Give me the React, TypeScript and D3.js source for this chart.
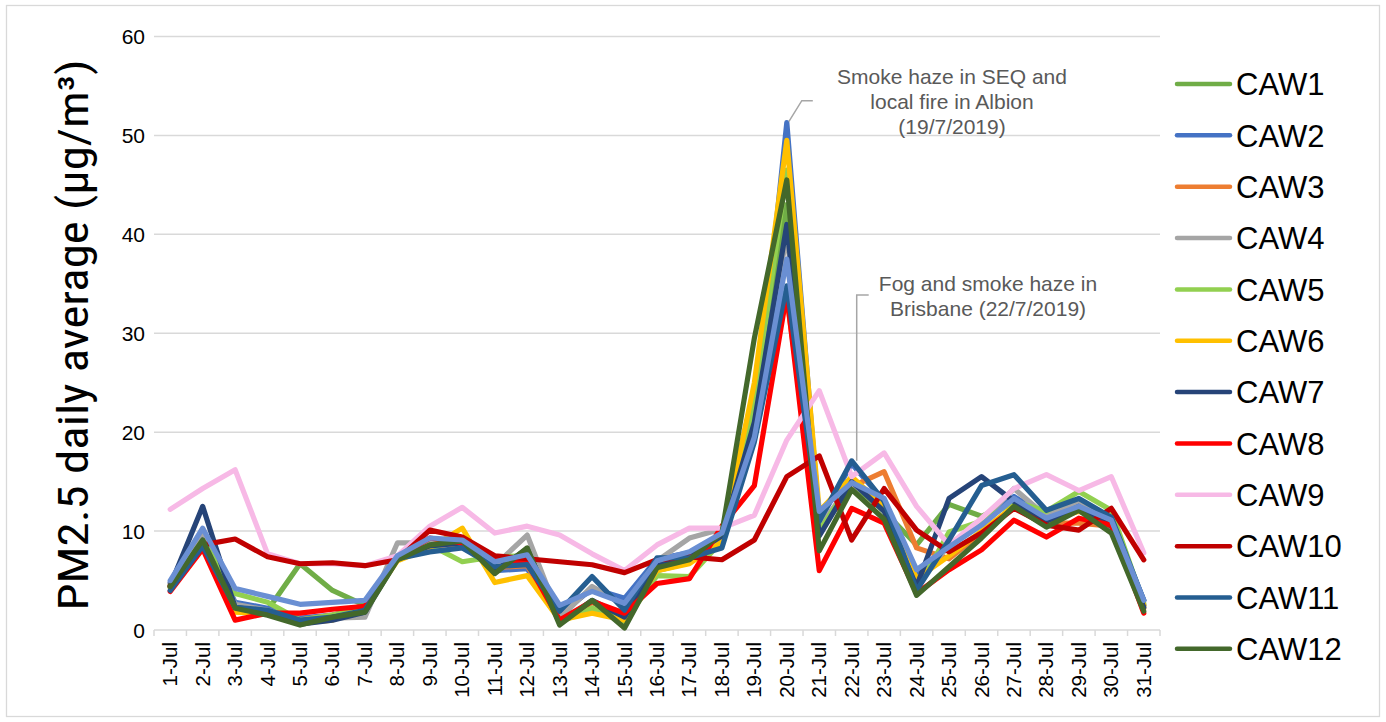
import React from "react";
import * as d3 from "d3";

const days = Array.from({ length: 31 }, (_, i) => `${i + 1}-Jul`);
const yTicks = [0, 10, 20, 30, 40, 50, 60];

const CAW1 = [4.3, 9.2, 2.5, 2.0, 6.7, 4.0, 2.5, 7.2, 8.6, 8.8, 6.0, 7.5, 0.8, 2.8, 1.0, 6.0, 6.8, 9.8, 23, 43, 10, 14.8, 12, 8.6, 12.7, 11.5, 13, 11, 13, 11, 2.5];
const CAW2 = [4.8, 9.8, 2.8, 2.2, 1.2, 1.5, 2.2, 7.5, 8.8, 8.6, 6.0, 6.2, 1.5, 4.2, 3.2, 7.2, 7.8, 9.5, 20, 51.3, 11, 16.8, 13, 5.5, 8.5, 11, 13.5, 11.5, 13, 11, 3];
const CAW3 = [4.5, 9.0, 2.4, 1.8, 1.0, 1.5, 2.0, 7.3, 8.5, 8.7, 6.3, 6.5, 1.0, 2.8, 1.5, 6.2, 7.2, 9.5, 24.5, 33.5, 10, 14.5, 16, 8.3, 7.2, 9.8, 12.5, 10.8, 10.8, 10.5, 2.2];
const CAW4 = [4.7, 10, 2.6, 2.0, 1.0, 1.2, 1.3, 8.8, 8.8, 8.7, 6.5, 9.6, 1.2, 4.4, 2.5, 7.0, 9.3, 10.2, 21, 40, 10.5, 14.8, 12.5, 5.0, 8.5, 11, 14.3, 11.5, 13.1, 11, 2.5];
const CAW5 = [4.4, 9.0, 3.7, 2.8, 1.0, 1.5, 2.2, 7.2, 8.6, 6.9, 7.4, 7.5, 0.8, 2.2, 0.8, 5.5, 5.4, 9.0, 23, 46.5, 10, 15, 12.5, 4.0, 9.9, 11, 13, 12, 14, 12.1, 2.7];
const CAW6 = [4.5, 9.0, 1.8, 1.6, 0.7, 1.0, 2.2, 7.0, 8.3, 10.3, 4.8, 5.5, 1.0, 1.7, 1.0, 6.0, 6.7, 9.0, 25, 49.5, 12, 15.5, 12.5, 5.2, 7.5, 10, 12.5, 11, 12, 10.8, 2.5];
const CAW7 = [4.5, 12.5, 2.3, 1.8, 0.6, 1.0, 1.8, 7.2, 8.5, 8.8, 6.0, 8.2, 0.7, 3.0, 1.3, 6.5, 7.5, 9.5, 21, 41, 9.5, 15, 12, 4.4, 13.3, 15.5, 13, 11, 12.3, 10.5, 2.3];
const CAW8 = [3.9, 8.2, 1.0, 1.7, 1.7, 2.1, 2.4, 7.3, 9.3, 8.8, 7.3, 6.8, 1.0, 2.9, 1.7, 4.7, 5.2, 10.5, 14.6, 34, 6.0, 12.3, 10.8, 3.7, 6.1, 8.1, 11.1, 9.4, 11.3, 10.6, 1.7];
const CAW9 = [12.2, 14.3, 16.2, 7.7, 6.7, 6.7, 6.5, 7.5, 10.5, 12.4, 9.8, 10.5, 9.6, 7.7, 6.0, 8.6, 10.3, 10.3, 11.6, 19.2, 24.2, 15.5, 17.9, 12.5, 8.6, 11.3, 14.3, 15.7, 14.1, 15.5, 7.8];
const CAW10 = [4.4, 8.6, 9.2, 7.4, 6.7, 6.8, 6.5, 7.1, 10.1, 9.4, 7.5, 7.2, 6.9, 6.6, 5.8, 7.1, 7.4, 7.1, 9.1, 15.5, 17.6, 9.1, 14.3, 10.1, 7.9, 9.8, 12.3, 10.6, 10.1, 12.3, 7.1];
const CAW11 = [4.0, 8.5, 2.3, 2.0, 1.0, 1.3, 2.0, 7.2, 7.9, 8.3, 6.4, 6.6, 1.9, 5.4, 2.0, 7.3, 7.3, 8.3, 19, 34.8, 11, 17.1, 13, 4.0, 9.1, 14.6, 15.7, 12.1, 13.3, 11.4, 3.0];
const CAW12 = [4.4, 9.1, 2.2, 1.5, 0.5, 1.3, 1.8, 7.1, 8.6, 9.0, 5.7, 8.3, 0.5, 3.0, 0.2, 6.3, 7.1, 9.8, 29.5, 45.5, 8.0, 14.2, 11.2, 3.5, 6.4, 9.3, 12.5, 10.4, 12.1, 9.8, 1.9];
const EXTRA = [5.0, 10.3, 4.2, 3.4, 2.6, 2.8, 3.0, 7.5, 9.3, 9.1, 6.9, 7.6, 2.5, 3.9, 2.7, 7.0, 7.9, 9.8, 19.5, 37.5, 12, 14.9, 13.3, 6.1, 8.4, 10.6, 13.3, 11.3, 12.5, 11.1, 3.0];

const seriesNames = ["CAW1", "CAW2", "CAW3", "CAW4", "CAW5", "CAW6", "CAW7", "CAW8", "CAW9", "CAW10", "CAW11", "CAW12"];
const seriesValues = [CAW1, CAW2, CAW3, CAW4, CAW5, CAW6, CAW7, CAW8, CAW9, CAW10, CAW11, CAW12];
const seriesColors = ["#70AD47", "#4472C4", "#ED7D31", "#A5A5A5", "#92D050", "#FFC000", "#264478", "#FF0000", "#F7B9E6", "#C00000", "#255E91", "#43682B"];
const extraColor = "#6A8FD3";

const W = 1386;
const H = 722;
const FONT = "'Liberation Sans', Arial, sans-serif";

export default function App() {
  const x = d3.scaleBand<string>().domain(days).range([154, 1160]);
  const y = d3.scaleLinear().domain([0, 60]).range([630, 36.5]);
  const cx = (d: string) => (x(d) as number) + x.bandwidth() / 2;
  const line = d3
    .line<number>()
    .x((_, i) => cx(days[i]))
    .y((v) => y(v));

  const tickXs = d3.range(days.length + 1).map((i) => 154 + i * x.bandwidth());

  const allSeries = [
    ...seriesValues.map((vals, i) => ({ vals, color: seriesColors[i] })),
    { vals: EXTRA, color: extraColor },
  ];

  const peakX = cx(days[19]);
  const peakY = y(CAW2[19]);
  const fogX = cx(days[21]);
  const fogY = y(CAW11[21]);

  return (
    <svg width={W} height={H} style={{ position: "absolute", left: 0, top: 0, background: "#fff" }} fontFamily={FONT}>
      <rect x={6.5} y={5.5} width={1373} height={711} fill="#fff" stroke="#D9D9D9" strokeWidth={1.3} />
      {yTicks.map((t) => (
        <line key={t} x1={154} x2={1160} y1={y(t)} y2={y(t)} stroke="#D9D9D9" strokeWidth={1.5} />
      ))}
      {tickXs.map((tx, i) => (
        <line key={i} x1={tx} x2={tx} y1={630} y2={636} stroke="#D9D9D9" strokeWidth={1.5} />
      ))}
      {yTicks.map((t) => (
        <text key={t} x={145} y={y(t)} dy="0.36em" textAnchor="end" fontSize={21} fill="#000">
          {t}
        </text>
      ))}
      {days.map((d) => (
        <text
          key={d}
          transform={`translate(${cx(d) + 7},642) rotate(-90)`}
          textAnchor="end"
          fontSize={20.5}
          fill="#000"
        >
          {d}
        </text>
      ))}
      <text
        transform="translate(88,335) rotate(-90)"
        textAnchor="middle"
        fontSize={42}
        fontFamily="'Liberation Sans Narrow', 'Roboto Condensed', 'Liberation Sans', sans-serif"
        textLength={551}
        lengthAdjust="spacingAndGlyphs"
        fill="#000"
      >
        PM2.5 daily average (µg/m³)
      </text>
      {allSeries.map((s, i) => (
        <path
          key={i}
          d={line(s.vals) || ""}
          fill="none"
          stroke={s.color}
          strokeWidth={5.2}
          strokeLinejoin="round"
          strokeLinecap="round"
        />
      ))}
      <polyline
        points={`${peakX + 2},${peakY - 1} ${peakX + 15},${100.7} ${peakX + 26},${100.7}`}
        fill="none"
        stroke="#A6A6A6"
        strokeWidth={1.5}
      />
      <g fontSize={21} fill="#595959" textAnchor="middle">
        <text x={952} y={84}>Smoke haze in SEQ and</text>
        <text x={952} y={109}>local fire in Albion</text>
        <text x={952} y={134}>(19/7/2019)</text>
      </g>
      <polyline
        points={`${fogX + 5},${fogY} ${fogX + 5},295 ${fogX + 17},295`}
        fill="none"
        stroke="#A6A6A6"
        strokeWidth={1.5}
      />
      <g fontSize={21} fill="#595959" textAnchor="middle">
        <text x={988} y={291}>Fog and smoke haze in</text>
        <text x={988} y={316}>Brisbane (22/7/2019)</text>
      </g>
      {seriesNames.map((n, i) => {
        const ly = 84 + i * 51.35;
        return (
          <g key={n}>
            <line x1={1177} x2={1230} y1={ly} y2={ly} stroke={seriesColors[i]} strokeWidth={4.5} strokeLinecap="round" />
            <text x={1236} y={ly} dy="0.36em" fontSize={31} fill="#000">
              {n}
            </text>
          </g>
        );
      })}
    </svg>
  );
}
